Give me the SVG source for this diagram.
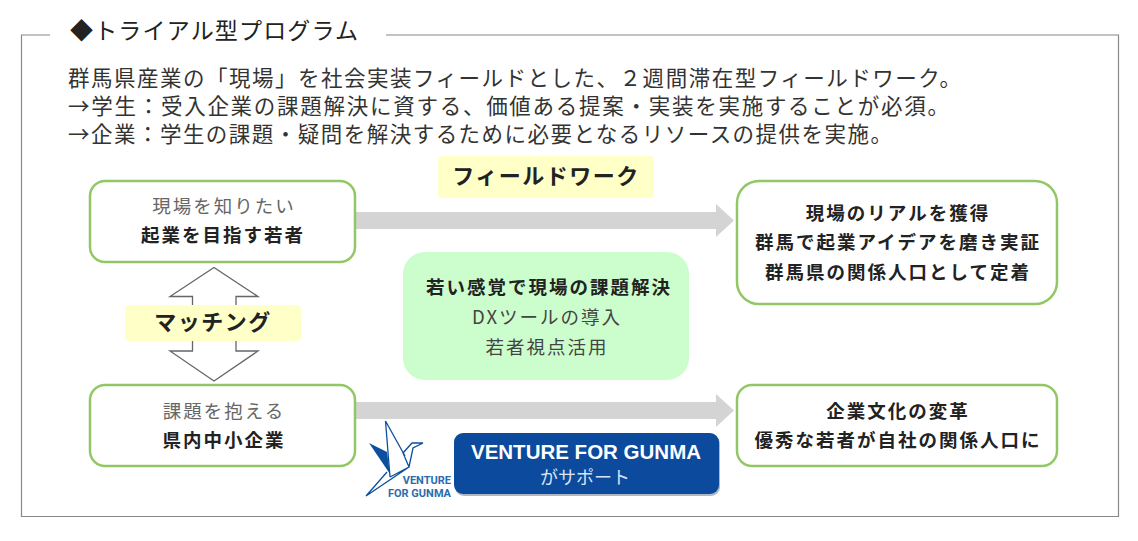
<svg xmlns="http://www.w3.org/2000/svg" width="1138" height="541" viewBox="0 0 1138 541">
<style>
text{font-family:"Noto Sans CJK JP","Noto Sans",sans-serif;fill:#222;text-anchor:middle}
.h{font-size:21.500px;text-anchor:start;fill:#333}
.n{font-size:18.500px;letter-spacing:2px;fill:#666}
.b{font-size:18.500px;font-weight:700;letter-spacing:2px;fill:#222}
.box{fill:#fff;stroke:#92c765;stroke-width:2.500}
.lab{fill:#ffffc8}
.ar{fill:#d4d4d4}
.cr{fill:none;stroke:#0b4f9e;stroke-width:1.300;stroke-linejoin:miter}
.lg{font-size:11px;font-weight:700;fill:#2a6cab;text-anchor:end;font-family:"Roboto",sans-serif}
</style>
<rect width="1138" height="541" fill="#fff"/>
<path d="M50 35H21.500V516.500H1118.500V35H386" fill="none" stroke="#888" stroke-width="1.200"/>
<g id="title"><text x="70" y="39" textLength="288" lengthAdjust="spacing" style="font-size:23px;text-anchor:start;fill:#222">◆トライアル型プログラム</text></g>
<g id="intro">
<text class="h" x="68" y="86" textLength="893" lengthAdjust="spacing">群馬県産業の「現場」を社会実装フィールドとした、２週間滞在型フィールドワーク。</text>
<text class="h" x="68" y="114" textLength="881" lengthAdjust="spacing">→学生：受入企業の課題解決に資する、価値ある提案・実装を実施することが必須。</text>
<text class="h" x="68" y="142" textLength="824" lengthAdjust="spacing">→企業：学生の課題・疑問を解決するために必要となるリソースの提供を実施。</text>
</g>
<g id="connectors">
<path class="ar" d="M356 212H716V204L734 220.500L716 237V229H356Z"/>
<path class="ar" d="M356 402H716V394L734 410.500L716 427V419H356Z"/>
<path d="M214 267.500L258 296.500H236V351H258L214 381L170 351H192.500V296.500H170Z" fill="#fff" stroke="#666" stroke-width="1.300"/>
</g>
<g id="label-fieldwork"><rect class="lab" x="438" y="156" width="216" height="42" rx="4"/><text x="546" y="184" style="font-size:22px;font-weight:700;letter-spacing:1.500px">フィールドワーク</text></g>
<g id="label-matching"><rect class="lab" x="125" y="305" width="176" height="36" rx="4"/><text x="213" y="330" style="font-size:22px;font-weight:700;letter-spacing:1.500px">マッチング</text></g>
<g id="node-youth"><rect class="box" x="90" y="181" width="265" height="81" rx="15"/><text class="n" x="224" y="213">現場を知りたい</text><text class="b" x="223" y="242">起業を目指す若者</text></g>
<g id="node-sme"><rect class="box" x="90" y="385" width="265" height="81" rx="15"/><text class="n" x="224" y="418">課題を抱える</text><text class="b" x="224" y="447">県内中小企業</text></g>
<g id="node-center"><rect x="403" y="252" width="286" height="128" rx="22" fill="#ccfdcc"/><text class="b" x="549" y="294">若い感覚で現場の課題解決</text><text class="n" x="547" y="324" style="fill:#444">DXツールの導入</text><text class="n" x="547" y="354" style="fill:#444">若者視点活用</text></g>
<g id="node-real"><rect class="box" x="737" y="181" width="320" height="123" rx="22"/><text class="b" x="898" y="220">現場のリアルを獲得</text><text class="b" x="898" y="249">群馬で起業アイデアを磨き実証</text><text class="b" x="898" y="279">群馬県の関係人口として定着</text></g>
<g id="node-culture"><rect class="box" x="737" y="385" width="320" height="81" rx="15"/><text class="b" x="898" y="418">企業文化の変革</text><text class="b" x="898" y="447">優秀な若者が自社の関係人口に</text></g>
<g id="logo">
<path d="M369 443L387 452L390 474Z" fill="#0b4f9e"/>
<path class="cr" d="M385.500 421L390 477M385.500 421L405 456M387 472L366 496L409 467L403 453L412 443L423 443L413 448L409 467M390 477L409 467"/>
<text class="lg" x="451" y="484">VENTURE</text>
<text class="lg" x="451" y="497">FOR GUNMA</text>
</g>
<g id="node-vfg"><rect x="455" y="435" width="265" height="61" rx="9" fill="#b0b8c4"/><rect x="454" y="433" width="265" height="61" rx="9" fill="#0b4a9c"/><text x="586" y="459" style="font-size:20.500px;font-weight:700;fill:#fff;font-family:'Liberation Sans',sans-serif">VENTURE FOR GUNMA</text><text x="585" y="484" style="font-size:18px;fill:#d8e4f2">がサポート</text></g>
</svg>
